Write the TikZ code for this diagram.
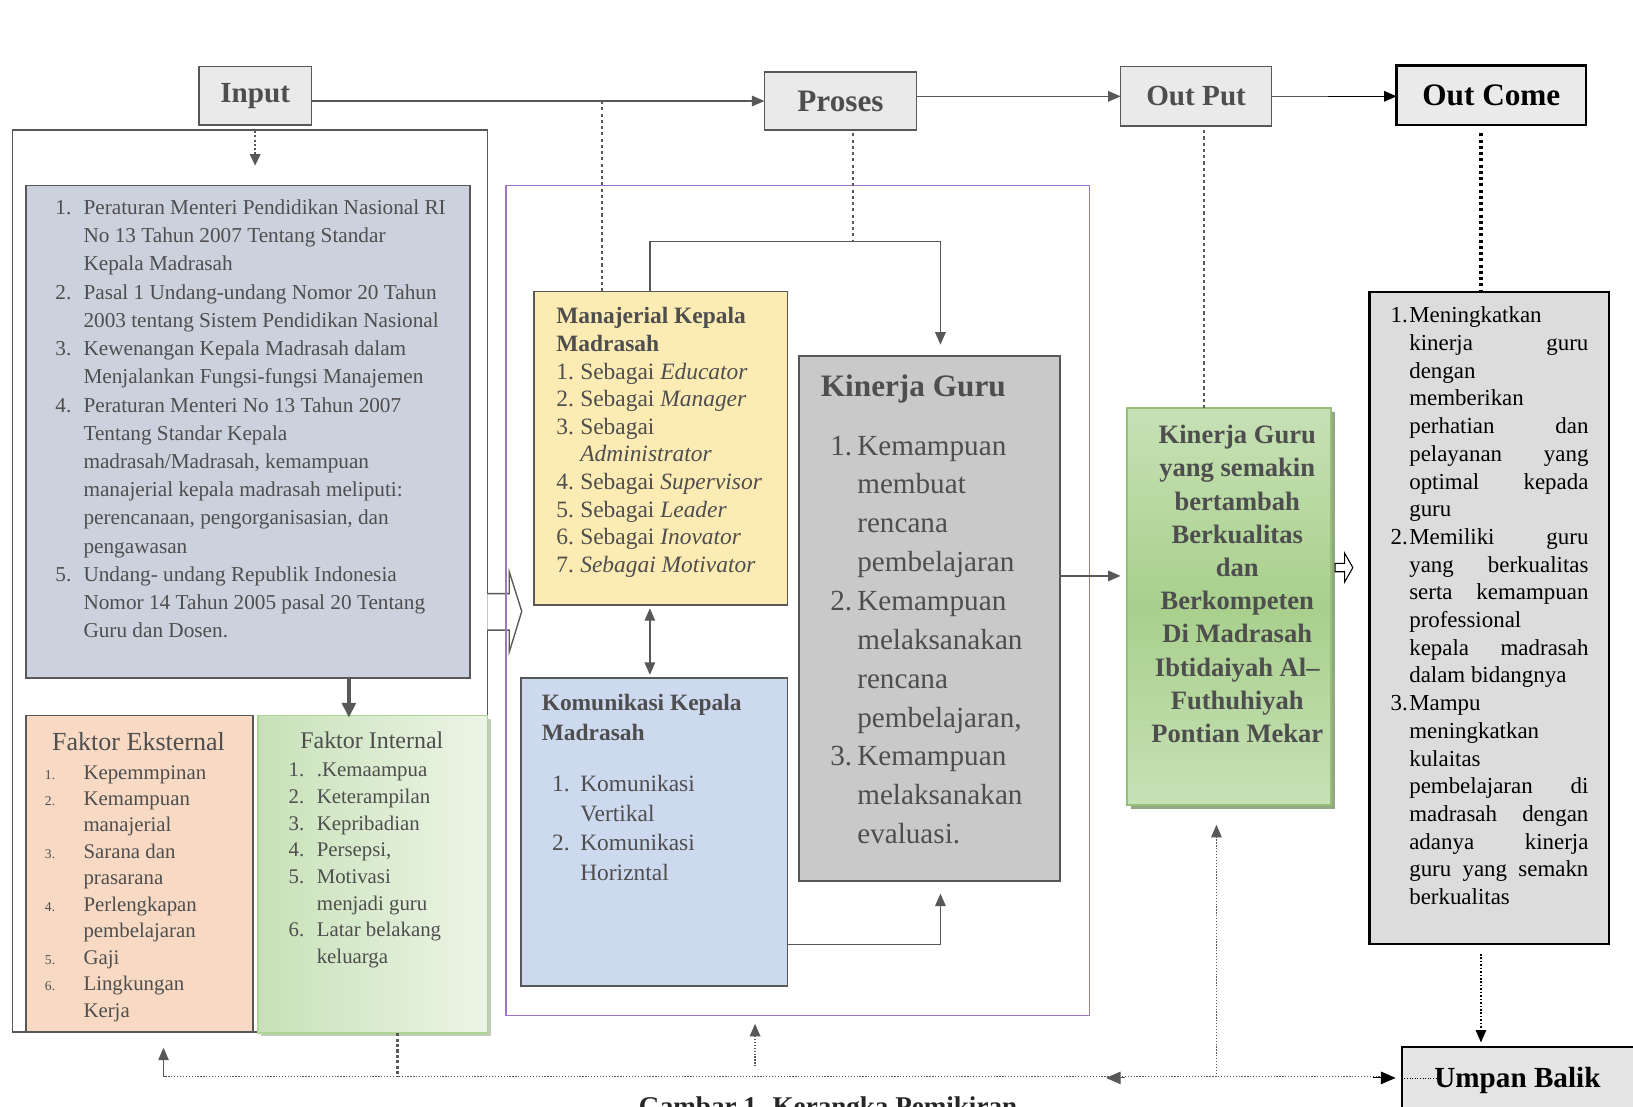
\documentclass[tikz,border=0pt]{standalone}
\usepackage{fontspec}
\setmainfont{Liberation Serif}
\usetikzlibrary{arrows.meta,calc,shadows}
\definecolor{txt}{RGB}{78,78,78}
\definecolor{bord}{RGB}{88,88,88}
\definecolor{hdrfill}{RGB}{234,234,234}
\definecolor{regfill}{RGB}{203,210,222}
\definecolor{peach}{RGB}{248,218,196}
\definecolor{yel}{RGB}{253,235,180}
\definecolor{kblue}{RGB}{205,217,238}
\definecolor{kgray}{RGB}{202,201,201}
\definecolor{purp}{RGB}{160,115,205}
\definecolor{gA}{RGB}{199,225,182}
\definecolor{gB}{RGB}{168,208,140}
\definecolor{gBord}{RGB}{150,192,120}
\definecolor{gShadow}{RGB}{120,145,100}
\definecolor{iA}{RGB}{200,225,184}
\definecolor{iB}{RGB}{236,245,230}
\definecolor{iBord}{RGB}{172,212,148}
\definecolor{ocfill}{RGB}{220,220,220}
\definecolor{ubfill}{RGB}{228,228,228}
\newcommand\fs[2]{\fontsize{#1}{#2}\selectfont}
\newcommand\nb[2]{\makebox[#1][l]{#2}}
\newcommand\jf[1]{\makebox[172pt][s]{#1}}
\newcommand\oi[1]{\makebox[18pt][l]{#1}}
\tikzset{
 box/.style={draw=bord, line width=1.6pt, rectangle, inner sep=0pt, outer sep=0pt, anchor=north west},
 hdr/.style={box, fill=hdrfill, text=txt, font=\bfseries\fs{28}{32}},
 arr/.style={draw=bord, line width=1.6pt, -{Triangle[length=12pt,width=10pt]}},
 dotl/.style={draw=bord, line width=2.6pt, dash pattern=on 3pt off 3pt},
 fine/.style={draw=bord, line width=1.1pt, dash pattern=on 1.2pt off 1.6pt},
 lst/.style={anchor=base west, inner sep=0pt, text=txt},
 ctr/.style={anchor=base, inner sep=0pt, text=txt},
}
\begin{document}
\begin{tikzpicture}[x=1pt,y=-1pt]
\useasboundingbox (0,0) rectangle (1568,1062);
\fill[white] (0,0) rectangle (1568,1062);

% ---------- header row ----------
\node[hdr, minimum width=108pt, minimum height=56pt] (inputb) at (191,64) {Input};
\node[hdr, font=\bfseries\fs{30}{34}, minimum width=146pt, minimum height=56pt] (proses) at (734,69) {Proses};
\node[hdr, minimum width=145pt, minimum height=57pt] (output) at (1076,64) {Out Put};
\node[hdr, draw=black, line width=2.2pt, text=black, font=\bfseries\fs{30}{34}, minimum width=182pt, minimum height=57pt] (outcome) at (1341,63) {Out Come};

% ---------- left (input) group ----------
\node[box, line width=1.4pt, minimum width=456pt, minimum height=866pt] (outerL) at (12,125) {};
\node[box, fill=regfill, minimum width=426pt, minimum height=473pt] (regs) at (25,178) {};
\node[lst, font=\fs{20.4}{27.1}] (regsT) at (53,206) {\begin{tabular}[t]{@{}l@{}}
\nb{27pt}{1.}Peraturan Menteri Pendidikan Nasional RI\\
\nb{27pt}{}No 13 Tahun 2007 Tentang Standar\\
\nb{27pt}{}Kepala Madrasah\\
\nb{27pt}{2.}Pasal 1 Undang-undang Nomor 20 Tahun\\
\nb{27pt}{}2003 tentang Sistem Pendidikan Nasional\\
\nb{27pt}{3.}Kewenangan Kepala Madrasah dalam\\
\nb{27pt}{}Menjalankan Fungsi-fungsi Manajemen\\
\nb{27pt}{4.}Peraturan Menteri No 13 Tahun 2007\\
\nb{27pt}{}Tentang Standar Kepala\\
\nb{27pt}{}madrasah/Madrasah, kemampuan\\
\nb{27pt}{}manajerial kepala madrasah meliputi:\\
\nb{27pt}{}perencanaan, pengorganisasian, dan\\
\nb{27pt}{}pengawasan\\
\nb{27pt}{5.}Undang- undang Republik Indonesia\\
\nb{27pt}{}Nomor 14 Tahun 2005 pasal 20 Tentang\\
\nb{27pt}{}Guru dan Dosen.
\end{tabular}};

\node[box, fill=peach, minimum width=218pt, minimum height=304pt] (ekst) at (25,687) {};
\node[ctr, font=\fs{25}{28}] (ekstT) at (133,721) {Faktor Eksternal};
\node[lst, font=\fs{20}{25.4}] (ekstL) at (43,748) {\begin{tabular}[t]{@{}l@{}}
\nb{37pt}{{\fs{13}{15}1.}}Kepemmpinan\\
\nb{37pt}{{\fs{13}{15}2.}}Kemampuan\\
\nb{37pt}{}manajerial\\
\nb{37pt}{{\fs{13}{15}3.}}Sarana dan\\
\nb{37pt}{}prasarana\\
\nb{37pt}{{\fs{13}{15}4.}}Perlengkapan\\
\nb{37pt}{}pembelajaran\\
\nb{37pt}{{\fs{13}{15}5.}}Gaji\\
\nb{37pt}{{\fs{13}{15}6.}}Lingkungan\\
\nb{37pt}{}Kerja
\end{tabular}};

\node[box, draw=iBord, left color=iA, right color=iB, minimum width=220pt, minimum height=305pt,
  drop shadow={shadow xshift=3pt, shadow yshift=-3pt, fill=gShadow, opacity=0.45}] (intl) at (248,687) {};
\node[ctr, font=\fs{23}{26}] (intlT) at (357,719) {Faktor Internal};
\node[lst, font=\fs{20}{25.6}] (intlL) at (277,746) {\begin{tabular}[t]{@{}l@{}}
\nb{27pt}{1.}.Kemaampua\\
\nb{27pt}{2.}Keterampilan\\
\nb{27pt}{3.}Kepribadian\\
\nb{27pt}{4.}Persepsi,\\
\nb{27pt}{5.}Motivasi\\
\nb{27pt}{}menjadi guru\\
\nb{27pt}{6.}Latar belakang\\
\nb{27pt}{}keluarga
\end{tabular}};

% thick arrow regs -> faktor internal
\coordinate (ta) at (335,689);
\draw[draw=bord, line width=3.5pt, -{Triangle[length=14pt,width=13pt]}] (regs.south -| ta) -- (ta);

% hollow block arrow into the process box
\draw[draw=bord, line width=1.3pt, fill=white] (468,570) -- (489,570) -- (489,549) -- (501,587) -- (489,626) -- (489,605) -- (468,605);

% ---------- process group ----------
\node[box, draw=purp, line width=1.6pt, minimum width=560pt, minimum height=797pt] (purpB) at (486,178) {};

\node[box, fill=yel, minimum width=243pt, minimum height=301pt] (manaj) at (513,280) {};
\node[lst, font=\fs{22.5}{26.5}] (manajT) at (534,311) {\begin{tabular}[t]{@{}l@{}}
\textbf{Manajerial Kepala}\\
\textbf{Madrasah}\\
\nb{23pt}{1.}Sebagai \textit{Educator}\\
\nb{23pt}{2.}Sebagai \textit{Manager}\\
\nb{23pt}{3.}Sebagai\\
\nb{23pt}{}\textit{Administrator}\\
\nb{23pt}{4.}Sebagai \textit{Supervisor}\\
\nb{23pt}{5.}Sebagai \textit{Leader}\\
\nb{23pt}{6.}Sebagai \textit{Inovator}\\
\nb{23pt}{7.}\textit{Sebagai Motivator}
\end{tabular}};

\node[box, fill=kblue, minimum width=256pt, minimum height=296pt] (komun) at (500,651) {};
\node[lst, font=\bfseries\fs{22.5}{29}] (komunT) at (520,682) {\begin{tabular}[t]{@{}l@{}}
Komunikasi Kepala\\ Madrasah\end{tabular}};
\node[lst, font=\fs{22.5}{28.4}] (komunL) at (530,760) {\begin{tabular}[t]{@{}l@{}}
\nb{27pt}{1.}Komunikasi\\
\nb{27pt}{}Vertikal\\
\nb{27pt}{2.}Komunikasi\\
\nb{27pt}{}Horizntal
\end{tabular}};

\node[box, fill=kgray, minimum width=251pt, minimum height=504pt] (kinerja) at (767,342) {};
\node[lst, font=\bfseries\fs{30}{34}] (kinT) at (788,381) {Kinerja Guru};
\node[lst, font=\fs{28}{37.3}] (kinL) at (797,437) {\begin{tabular}[t]{@{}l@{}}
\nb{26pt}{1.}Kemampuan\\
\nb{26pt}{}membuat\\
\nb{26pt}{}rencana\\
\nb{26pt}{}pembelajaran\\
\nb{26pt}{2.}Kemampuan\\
\nb{26pt}{}melaksanakan\\
\nb{26pt}{}rencana\\
\nb{26pt}{}pembelajaran,\\
\nb{26pt}{3.}Kemampuan\\
\nb{26pt}{}melaksanakan\\
\nb{26pt}{}evaluasi.
\end{tabular}};

% ---------- output ----------
\node[box, draw=gBord, top color=gA, bottom color=gA, middle color=gB, minimum width=196pt, minimum height=381pt,
  drop shadow={shadow xshift=4pt, shadow yshift=-4pt, fill=gShadow, opacity=0.8}] (hasil) at (1082,392) {};
\node[ctr, font=\bfseries\fs{25.5}{31.9}] (hasilT) at (1188,426) {\begin{tabular}[t]{@{}c@{}}
Kinerja Guru\\ yang semakin\\ bertambah\\ Berkualitas\\ dan\\ Berkompeten\\ Di Madrasah\\ Ibtidaiyah Al--\\ Futhuhiyah\\ Pontian Mekar
\end{tabular}};

% ---------- outcome ----------
\node[box, draw=black, line width=2pt, fill=ocfill, minimum width=230pt, minimum height=626pt] (ocl) at (1315,280) {};
\node[lst, text=black, font=\fs{22}{26.6}] (oclT) at (1335,310) {\begin{tabular}[t]{@{}l@{}}
\oi{1.}Meningkatkan\\
\oi{}\jf{kinerja guru}\\
\oi{}dengan\\
\oi{}memberikan\\
\oi{}\jf{perhatian dan}\\
\oi{}\jf{pelayanan yang}\\
\oi{}\jf{optimal kepada}\\
\oi{}guru\\
\oi{2.}\jf{Memiliki guru}\\
\oi{}\jf{yang berkualitas}\\
\oi{}\jf{serta kemampuan}\\
\oi{}professional\\
\oi{}\jf{kepala madrasah}\\
\oi{}dalam bidangnya\\
\oi{3.}Mampu\\
\oi{}meningkatkan\\
\oi{}kulaitas\\
\oi{}\jf{pembelajaran di}\\
\oi{}\jf{madrasah dengan}\\
\oi{}\jf{adanya kinerja}\\
\oi{}\jf{guru yang semakn}\\
\oi{}berkualitas
\end{tabular}};

\node[box, draw=black, line width=2.2pt, fill=ubfill, minimum width=250pt, minimum height=80pt] (umpan) at (1346,1005) {};

% ---------- connectors: header row ----------
\draw[arr] (inputb.east |- proses.west) -- (proses.west);
\draw[arr] (proses.east |- output.west) -- (output.west);
\coordinate (oc1) at (1275,92.5);
\draw[draw=bord, line width=1.6pt] (output.east) -- (oc1);
\draw[draw=black, line width=1.6pt, -{Triangle[length=12pt,width=10pt]}] (oc1) -- (oc1 -| outcome.west);

% dotted drops
\coordinate (inTip) at (245,159);
\draw[dotl, line width=2pt, dash pattern=on 2pt off 2pt, -{Triangle[length=11pt,width=10pt]}, shorten <=6pt] (inputb.south) -- (inTip);
\coordinate (jA) at (578,97);
\draw[dotl] (jA) -- (jA |- manaj.north);
\coordinate (jP) at (819,232);
\draw[dotl, shorten <=3pt] (proses.south -| jP) -- (jP);
\coordinate (xo) at (1156,392);
\draw[dotl, shorten <=4pt] (output.south -| xo) -- (xo |- hasil.north);
\coordinate (xc) at (1422,280);
\draw[draw=black, line width=3pt, dash pattern=on 3pt off 3pt, shorten <=8pt] (outcome.south -| xc) -- (xc |- ocl.north);
\draw[draw=black, line width=1.4pt, dash pattern=on 1.5pt off 1.8pt, -{Triangle[length=12pt,width=10pt]}, shorten <=10pt, shorten >=4pt] (ocl.south -| xc) -- (umpan.north -| xc);

% ---------- connectors: process ----------
\coordinate (mk1) at (624,232);
\coordinate (mk2) at (903,232);
\draw[arr, line width=1.6pt, shorten >=11pt] (mk1 |- manaj.north) -- (mk1) -- (mk2) -- (mk2 |- kinerja.north);
\draw[draw=bord, line width=1.6pt, {Triangle[length=12pt,width=10pt]}-{Triangle[length=12pt,width=10pt]}, shorten <=3pt, shorten >=3pt] (manaj.south -| mk1) -- (komun.north -| mk1);
\coordinate (kk) at (903,907);
\draw[arr, line width=1.6pt, shorten >=12pt] (kk -| komun.east) -- (kk) -- (kk |- kinerja.south);
\coordinate (kh) at (1018,553);
\draw[arr, shorten >=6pt] (kinerja.east |- kh) -- (hasil.west |- kh);

% small hollow arrow after the output box
\draw[draw=black, line width=1pt, fill=white] (1282,541) -- (1291,541) -- (1291,531) -- (1299,545) -- (1291,559) -- (1291,549) -- (1282,549) -- cycle;

% ---------- feedback ----------
\coordinate (fb0) at (1336,1034);
\coordinate (fbL) at (157,1034);
\coordinate (fbTip) at (157,1006);
\draw[fine] (fb0) -- (fbL);
\draw[draw=bord, line width=1.5pt, -{Triangle[length=12pt,width=10pt]}] (fbL) -- (fbTip);
\coordinate (v1) at (382,1034);
\draw[draw=bord, line width=2.8pt, dash pattern=on 3pt off 2.2pt] (intl.south -| v1) -- (v1);
\coordinate (v2) at (725,1024);
\draw[fine, line width=1.6pt, -{Triangle[length=12pt,width=10pt]}, shorten >=8pt] (v2) -- (v2 |- purpB.south);
\coordinate (v3) at (1168,1034);
\draw[fine, line width=1.4pt, -{Triangle[length=12pt,width=10pt]}, shorten >=19pt] (v3) -- (v3 |- hasil.south);
\coordinate (la1) at (1080,1035);
\coordinate (la2) at (1062,1035);
\draw[draw=bord, line width=1pt, -{Triangle[length=14pt,width=12pt]}] (la1) -- (la2);
\coordinate (ra1) at (1318,1035);
\draw[draw=black, line width=1pt, -{Triangle[length=14pt,width=12pt]}, shorten >=6pt] (ra1) -- (umpan.west |- ra1);
\coordinate (ra2) at (1380,1035);
\draw[draw=black, line width=0.8pt, dash pattern=on 1pt off 1.5pt] (umpan.west |- ra1) -- (ra2);

\node[ctr, text=black, font=\bfseries\fs{28}{32}] (umpanT) at (1457,1044) {Umpan Balik};
\node[ctr, text=black!85, font=\bfseries\fs{26}{30}] (capt) at (795,1071) {Gambar 1. Kerangka Pemikiran};
\end{tikzpicture}
\end{document}
